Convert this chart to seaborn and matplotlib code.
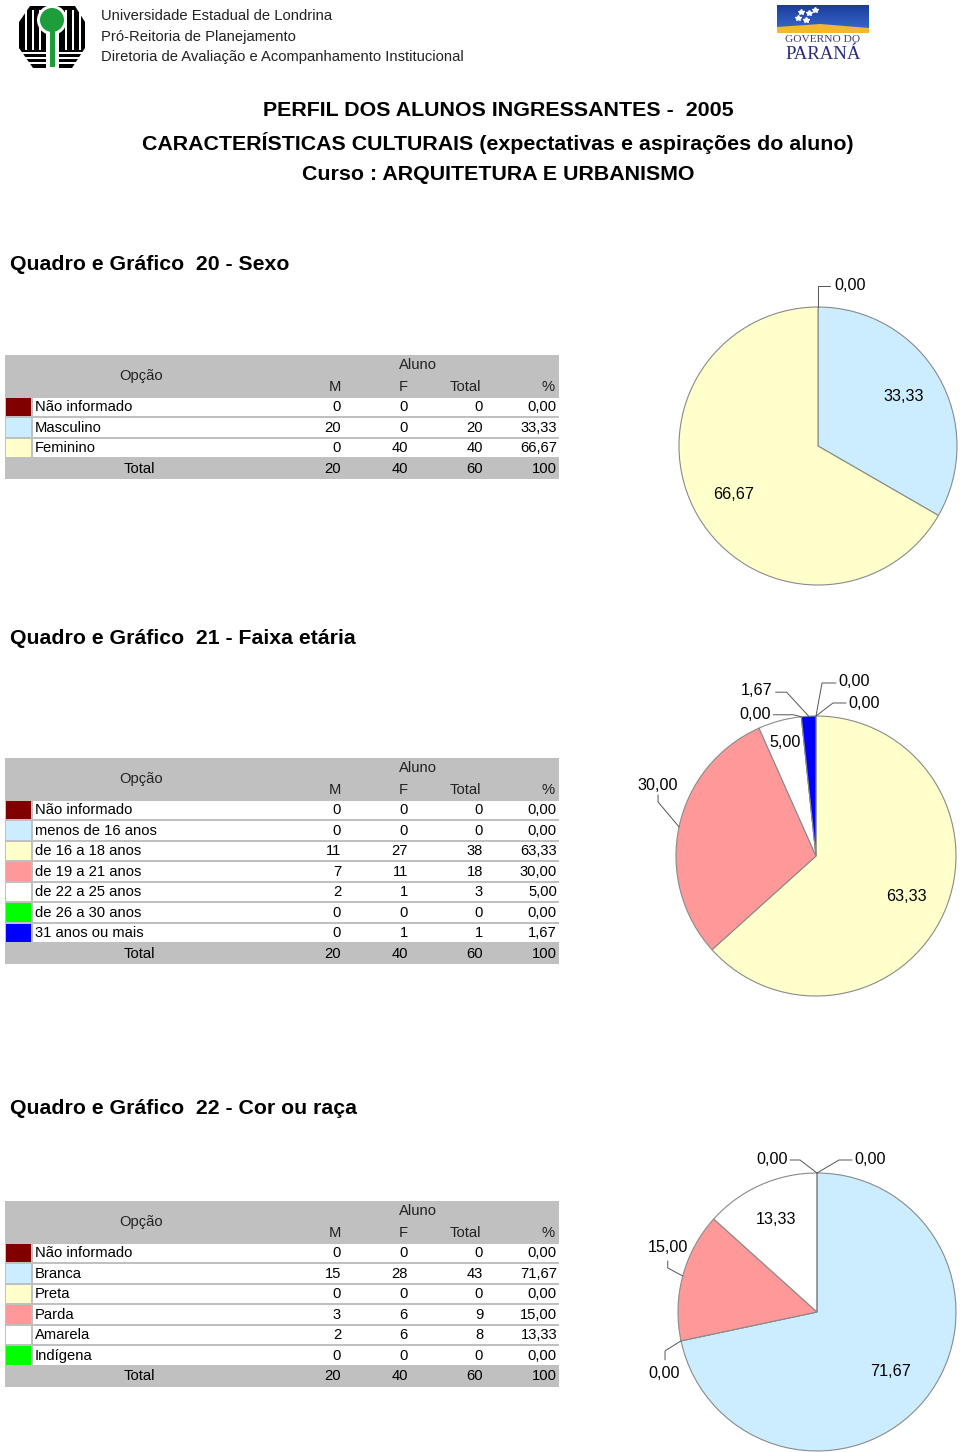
import numpy as np
import pandas as pd
import seaborn as sns
import matplotlib
matplotlib.use("Agg")
import matplotlib.pyplot as plt
from matplotlib.patches import Rectangle, Circle, Polygon

sns.set_theme(style="white")
plt.rcParams['font.family'] = ['Liberation Sans', 'DejaVu Sans']

# ---------------- data ----------------
sexo_opcoes = ["Não informado", "Masculino", "Feminino"]
sexo_M = [0, 20, 0]
sexo_F = [0, 0, 40]
sexo_total = [0, 20, 40]
sexo_pct = [0.00, 33.33, 66.67]
sexo_cores = ["#800000", "#CCECFF", "#FFFFCC"]

idade_opcoes = ["Não informado", "menos de 16 anos", "de 16 a 18 anos", "de 19 a 21 anos",
                "de 22 a 25 anos", "de 26 a 30 anos", "31 anos ou mais"]
idade_M = [0, 0, 11, 7, 2, 0, 0]
idade_F = [0, 0, 27, 11, 1, 0, 1]
idade_total = [0, 0, 38, 18, 3, 0, 1]
idade_pct = [0.00, 0.00, 63.33, 30.00, 5.00, 0.00, 1.67]
idade_cores = ["#800000", "#CCECFF", "#FFFFCC", "#FF9999", "#FFFFFF", "#00FF00", "#0000FF"]

cor_opcoes = ["Não informado", "Branca", "Preta", "Parda", "Amarela", "Indígena"]
cor_M = [0, 15, 0, 3, 2, 0]
cor_F = [0, 28, 0, 6, 6, 0]
cor_total = [0, 43, 0, 9, 8, 0]
cor_pct = [0.00, 71.67, 0.00, 15.00, 13.33, 0.00]
cor_cores = ["#800000", "#CCECFF", "#FFFFCC", "#FF9999", "#FFFFFF", "#00FF00"]

totais = [20, 40, 60, 100]

# ---------------- figure ----------------
W, H = 960, 1452
fig = plt.figure(figsize=(9.6, 14.52), dpi=100)
ax = fig.add_axes([0, 0, 1, 1])


def Y(py):
    return H - py


def fmt(p):
    return f"{p:.2f}".replace('.', ',')


GRAY = "#C0C0C0"
TXT = 10.6
PIE_TXT = 11.6


def draw_table(top, opcoes, M, F, T, P, cores):
    head_h = 42
    row_h = 20.5
    n = len(opcoes)
    bottom = top + head_h + (n + 1) * row_h
    ax.add_patch(Rectangle((5, Y(bottom)), 554, bottom - top, facecolor=GRAY, edgecolor='none', zorder=1))
    ax.text(418, Y(top + 10), "Aluno", ha='center', va='center', fontsize=TXT, color='#222222', zorder=3)
    ax.text(141, Y(top + 21), "Opção", ha='center', va='center', fontsize=TXT, color='#222222', zorder=3)
    for lab, xr in zip(["M", "F", "Total", "%"], [341, 408, 481, 555]):
        ax.text(xr, Y(top + 32), lab, ha='right', va='center', fontsize=TXT, color='#222222', zorder=3)
    for i in range(n):
        rt = top + head_h + i * row_h
        rc = rt + row_h / 2
        ax.add_patch(Rectangle((33, Y(rt + row_h - 1.5)), 526, row_h - 2, facecolor='white',
                               edgecolor='none', zorder=2))
        ax.add_patch(Rectangle((6, Y(rt + row_h - 1.5)), 25, row_h - 2, facecolor=cores[i],
                               edgecolor='none', zorder=2))
        ax.text(35, Y(rc), opcoes[i], ha='left', va='center', fontsize=TXT, color='black', zorder=3)
        vals = [str(M[i]), str(F[i]), str(T[i]), fmt(P[i])]
        for v, xr in zip(vals, [341, 408, 483, 557]):
            ax.text(xr, Y(rc), v, ha='right', va='center', fontsize=TXT, color='black', zorder=3)
    rc = top + head_h + n * row_h + row_h / 2
    ax.text(139, Y(rc), "Total", ha='center', va='center', fontsize=TXT, color='black', zorder=3)
    for v, xr in zip(totais, [341, 408, 483, 557]):
        ax.text(xr, Y(rc), str(v), ha='right', va='center', fontsize=TXT, color='black', zorder=3)


def draw_pie(values, cores, cx, cy, r, specs):
    ax.pie(values, colors=cores, startangle=90, counterclock=False, center=(cx, Y(cy)), radius=r,
           wedgeprops=dict(edgecolor='#8a8a8a', linewidth=0.8))
    v = np.asarray(values, dtype=float)
    cum = np.concatenate([[0], np.cumsum(v)]) / v.sum()
    for i, spec in specs.items():
        a0 = 90 - 360 * cum[i]
        a1 = 90 - 360 * cum[i + 1]
        mid = np.deg2rad((a0 + a1) / 2)
        if spec[0] == 'in':
            f = spec[1]
            ax.text(cx + f * r * np.cos(mid), Y(cy - f * r * np.sin(mid)), fmt(values[i]),
                    ha='center', va='center', fontsize=PIE_TXT, color='black', zorder=5)
        else:
            _, toff, ha, pts = spec
            axp = cx + r * np.cos(mid)
            ayp = cy - r * np.sin(mid)
            xs = [axp] + [axp + p[0] for p in pts]
            ys = [Y(ayp)] + [Y(ayp + p[1]) for p in pts]
            ax.plot(xs, ys, color='#555555', lw=0.7, zorder=5)
            ax.text(axp + toff[0], Y(ayp + toff[1]), fmt(values[i]), ha=ha, va='center',
                    fontsize=PIE_TXT, color='black', zorder=5)


# ---------------- header ----------------
# UEL logo (simplified)
ax.add_patch(Polygon([(30, Y(6)), (75, Y(6)), (85, Y(22)), (85, Y(48)), (72, Y(68)),
                      (33, Y(68)), (19, Y(48)), (19, Y(22))], closed=True,
                     facecolor='black', edgecolor='none', zorder=2))
for xs in [25, 32, 39, 65, 72, 79]:
    ax.add_patch(Rectangle((xs, Y(50)), 2, 40, facecolor='white', edgecolor='none', zorder=3))
for yy in [52, 57, 62]:
    ax.add_patch(Rectangle((18, Y(yy + 1.5)), 70, 1.5, facecolor='white', edgecolor='none', zorder=3))
ax.add_patch(Rectangle((45.5, Y(69)), 13, 46, facecolor='white', edgecolor='none', zorder=4))
ax.add_patch(Circle((52, Y(20)), 15, facecolor='white', edgecolor='none', zorder=4))
ax.add_patch(Circle((52, Y(20)), 12, facecolor='#1E9E3A', edgecolor='none', zorder=5))
ax.add_patch(Rectangle((49.5, Y(67)), 5, 38, facecolor='#1E9E3A', edgecolor='none', zorder=5))

for i, t in enumerate(["Universidade Estadual de Londrina", "Pró-Reitoria de Planejamento",
                       "Diretoria de Avaliação e Acompanhamento Institucional"]):
    ax.text(101, Y(16 + 20.5 * i), t, ha='left', va='center', fontsize=10.6, color='#222222')

# Governo do Paraná logo (simplified)
grad = np.linspace(0, 1, 30)[:, None] * np.ones((1, 10))
ax.imshow(grad, extent=(777, 869, Y(33), Y(5)), cmap=matplotlib.colors.LinearSegmentedColormap.from_list(
    'g', ['#1B3C9E', '#3B6FD0']), aspect='auto', zorder=2)
ax.add_patch(Polygon([(777, Y(33)), (777, Y(27)), (820, Y(24)), (869, Y(28)), (869, Y(33))],
                     closed=True, facecolor='#F2B830', edgecolor='none', zorder=3))
for sx, sy in [(801, 12), (809, 13), (815, 10), (798, 18), (806, 20)]:
    ax.plot(sx, Y(sy), marker='*', color='white', ms=4, zorder=4)
ax.text(823, Y(40), "GOVERNO DO", ha='center', va='center', fontsize=8.2, color='#3A3A7A',
        family=['Liberation Serif', 'DejaVu Serif'])
ax.text(823, Y(54.5), "PARANÁ", ha='center', va='center', fontsize=13.5, color='#2A2A80',
        family=['Liberation Serif', 'DejaVu Serif'])

# titles
for t, yy in [("PERFIL DOS ALUNOS INGRESSANTES -  2005", 111),
              ("CARACTERÍSTICAS CULTURAIS (expectativas e aspirações do aluno)", 143),
              ("Curso : ARQUITETURA E URBANISMO", 174)]:
    ax.text(498, Y(yy), t, ha='center', va='center', fontsize=15.4, fontweight='bold', color='black')

for t, yy in [("Quadro e Gráfico  20 - Sexo", 264), ("Quadro e Gráfico  21 - Faixa etária", 639),
              ("Quadro e Gráfico  22 - Cor ou raça", 1109)]:
    ax.text(10, Y(yy), t, ha='left', va='center', fontsize=15.3, fontweight='bold', color='black')

# ---------------- tables ----------------
draw_table(355, sexo_opcoes, sexo_M, sexo_F, sexo_total, sexo_pct, sexo_cores)
draw_table(758, idade_opcoes, idade_M, idade_F, idade_total, idade_pct, idade_cores)
draw_table(1201, cor_opcoes, cor_M, cor_F, cor_total, cor_pct, cor_cores)

# ---------------- pies ----------------
draw_pie(sexo_pct, sexo_cores, 818, 446, 139, {
    0: ('out', (16, -22), 'left', [(0, -21), (12, -21)]),
    1: ('in', 0.71),
    2: ('in', 0.70),
})

draw_pie(idade_pct, idade_cores, 816, 856, 140, {
    0: ('out', (22, -34), 'left', [(6, -33), (20, -33)]),
    1: ('out', (32, -13), 'left', [(17, -13), (30, -13)]),
    2: ('in', 0.71),
    3: ('out', (-21, -41), 'center', [(-21, -25), (-21, -32)]),
    4: ('in', 0.84),
    5: ('out', (-30, -2), 'right', [(-8, -2), (-28, -2)]),
    6: ('out', (-36, -26), 'right', [(-22, -24), (-33, -24)]),
})

draw_pie(cor_pct, cor_cores, 817, 1312, 139, {
    0: ('out', (37, -13), 'left', [(22, -13), (35, -13)]),
    1: ('in', 0.68),
    2: ('out', (-17, 33), 'center', [(-16, 10), (-16, 19)]),
    3: ('out', (-15, -28), 'center', [(-15, -8), (-15, -15)]),
    4: ('in', 0.73),
    5: ('out', (-29, -13), 'right', [(-17, -13), (-27, -13)]),
})

ax.set_xlim(0, W)
ax.set_ylim(0, H)
ax.set_aspect('auto')
ax.axis('off')

fig.savefig("out.png", dpi=100, facecolor='white')
